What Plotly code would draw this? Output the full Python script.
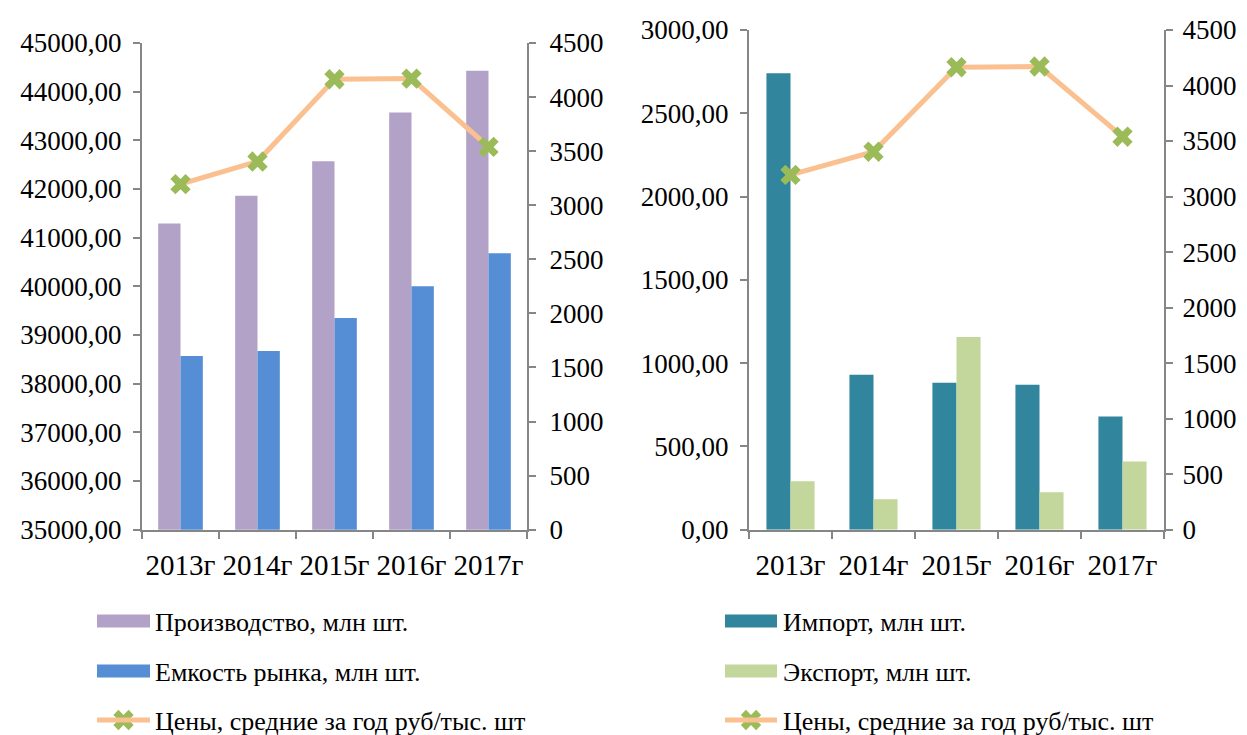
import plotly.graph_objects as go

# --- data ---
years = ["2013г", "2014г", "2015г", "2016г", "2017г"]
production = [41290, 41860, 42570, 43570, 44430]
market_capacity = [38570, 38670, 39350, 40000, 40680]
prices = [3195, 3404, 4165, 4171, 3539]
imports = [2740, 930, 882, 870, 679]
exports = [291, 183, 1157, 225, 410]

left_names = ["Производство, млн шт.", "Емкость рынка, млн шт.",
              "Цены, средние за год руб/тыс. шт"]
right_names = ["Импорт, млн шт.", "Экспорт, млн шт.",
               "Цены, средние за год руб/тыс. шт"]

COL_PROD = "#B3A2C7"
COL_CAP = "#558ED5"
COL_IMP = "#31859C"
COL_EXP = "#C3D69B"
COL_LINE = "#FAC090"
COL_MARK = "#9BBB59"
AXIS_COL = "#868686"
FONT = "Liberation Serif, DejaVu Serif, serif"

W, H = 1247, 735


def px_x(x):
    return x / W


def px_y(y):
    return 1 - y / H


fig = go.Figure()

# left chart
fig.add_trace(go.Bar(x=years, y=production, marker_color=COL_PROD,
                     xaxis="x", yaxis="y", name=left_names[0]))
fig.add_trace(go.Bar(x=years, y=market_capacity, marker_color=COL_CAP,
                     xaxis="x", yaxis="y", name=left_names[1]))
fig.add_trace(go.Scatter(x=years, y=prices, mode="lines+markers",
                         line=dict(color=COL_LINE, width=5),
                         marker=dict(symbol="x", size=18, color=COL_MARK),
                         xaxis="x", yaxis="y2", name=left_names[2]))

# right chart
fig.add_trace(go.Bar(x=years, y=imports, marker_color=COL_IMP,
                     xaxis="x2", yaxis="y3", name=right_names[0]))
fig.add_trace(go.Bar(x=years, y=exports, marker_color=COL_EXP,
                     xaxis="x2", yaxis="y3", name=right_names[1]))
fig.add_trace(go.Scatter(x=years, y=prices, mode="lines+markers",
                         line=dict(color=COL_LINE, width=5),
                         marker=dict(symbol="x", size=18, color=COL_MARK),
                         xaxis="x2", yaxis="y4", name=right_names[2]))

tick_font = dict(family=FONT, size=27, color="black")

xcommon = dict(type="category", showline=True, linecolor=AXIS_COL, linewidth=2,
               ticks="outside", tickson="boundaries", ticklen=7, tickwidth=2,
               tickcolor=AXIS_COL, showgrid=False, zeroline=False,
               tickfont=dict(tick_font, size=29), tickangle=0, ticklabelstandoff=8,
               fixedrange=True, automargin=False)
ycommon = dict(showline=True, linecolor=AXIS_COL, linewidth=2, ticks="outside",
               ticklen=7, tickwidth=2, tickcolor=AXIS_COL, showgrid=False,
               zeroline=False, tickfont=tick_font, fixedrange=True, automargin=False)

left_dom = [px_x(134), px_x(519)]
right_dom = [px_x(741), px_x(1156)]
ybottom = px_y(521.7)
left_top = px_y(35)
right_top = px_y(22)

fig.update_layout(
    template="none",
    width=W, height=H,
    margin=dict(l=0, r=0, t=0, b=0, pad=0),
    paper_bgcolor="white", plot_bgcolor="rgba(0,0,0,0)",
    separators=", ",
    barmode="group", bargap=0.42, bargroupgap=0,
    showlegend=False,
    font=dict(family=FONT, color="black"),
    xaxis=dict(xcommon, domain=left_dom, anchor="y"),
    yaxis=dict(ycommon, domain=[ybottom, left_top], anchor="x",
               range=[35000, 45000], dtick=1000, tickformat=".2f",
               ticklabelstandoff=6),
    yaxis2=dict(ycommon, domain=[ybottom, left_top], anchor="x", overlaying="y",
                side="right", range=[0, 4500], dtick=500, tickformat="d",
                ticklabelstandoff=8),
    xaxis2=dict(xcommon, domain=right_dom, anchor="y3"),
    yaxis3=dict(ycommon, domain=[ybottom, right_top], anchor="x2",
                range=[0, 3000], dtick=500, tickformat=".2f",
                ticklabelstandoff=6),
    yaxis4=dict(ycommon, domain=[ybottom, right_top], anchor="x2", overlaying="y3",
                side="right", range=[0, 4500], dtick=500, tickformat="d",
                ticklabelstandoff=4),
    # hidden pixel-space axis for legend markers
    xaxis3=dict(domain=[0, 1], range=[0, W], visible=False, fixedrange=True, anchor="y5"),
    yaxis5=dict(domain=[0, 1], range=[H, 0], visible=False, fixedrange=True, anchor="x3"),
)

# --- manual legends (below each chart) ---
legend_font = dict(family=FONT, size=26, color="black")
rows_y = [613, 663, 712]


def add_legend(x0, x1, text_x, names, bar_colors):
    for i, name in enumerate(names):
        yc = rows_y[i]
        if i < 2:
            fig.add_shape(type="rect", xref="paper", yref="paper",
                          x0=px_x(x0), x1=px_x(x1), y0=px_y(yc + 6.5), y1=px_y(yc - 6.5),
                          fillcolor=bar_colors[i], line_width=0)
        else:
            fig.add_shape(type="line", xref="paper", yref="paper",
                          x0=px_x(x0), x1=px_x(x1), y0=px_y(yc), y1=px_y(yc),
                          line=dict(color=COL_LINE, width=5))
        fig.add_annotation(x=px_x(text_x), y=px_y(yc + 1), xref="paper", yref="paper",
                           text=name, showarrow=False, xanchor="left", yanchor="middle",
                           font=legend_font, borderpad=0)
    fig.add_trace(go.Scatter(x=[(x0 + x1) / 2], y=[rows_y[2]], mode="markers",
                             marker=dict(symbol="x", size=18, color=COL_MARK),
                             xaxis="x3", yaxis="y5", hoverinfo="skip"))


add_legend(89, 142, 146, left_names, [COL_PROD, COL_CAP])
add_legend(717, 769, 774, right_names, [COL_IMP, COL_EXP])

fig.write_html("out.html")
